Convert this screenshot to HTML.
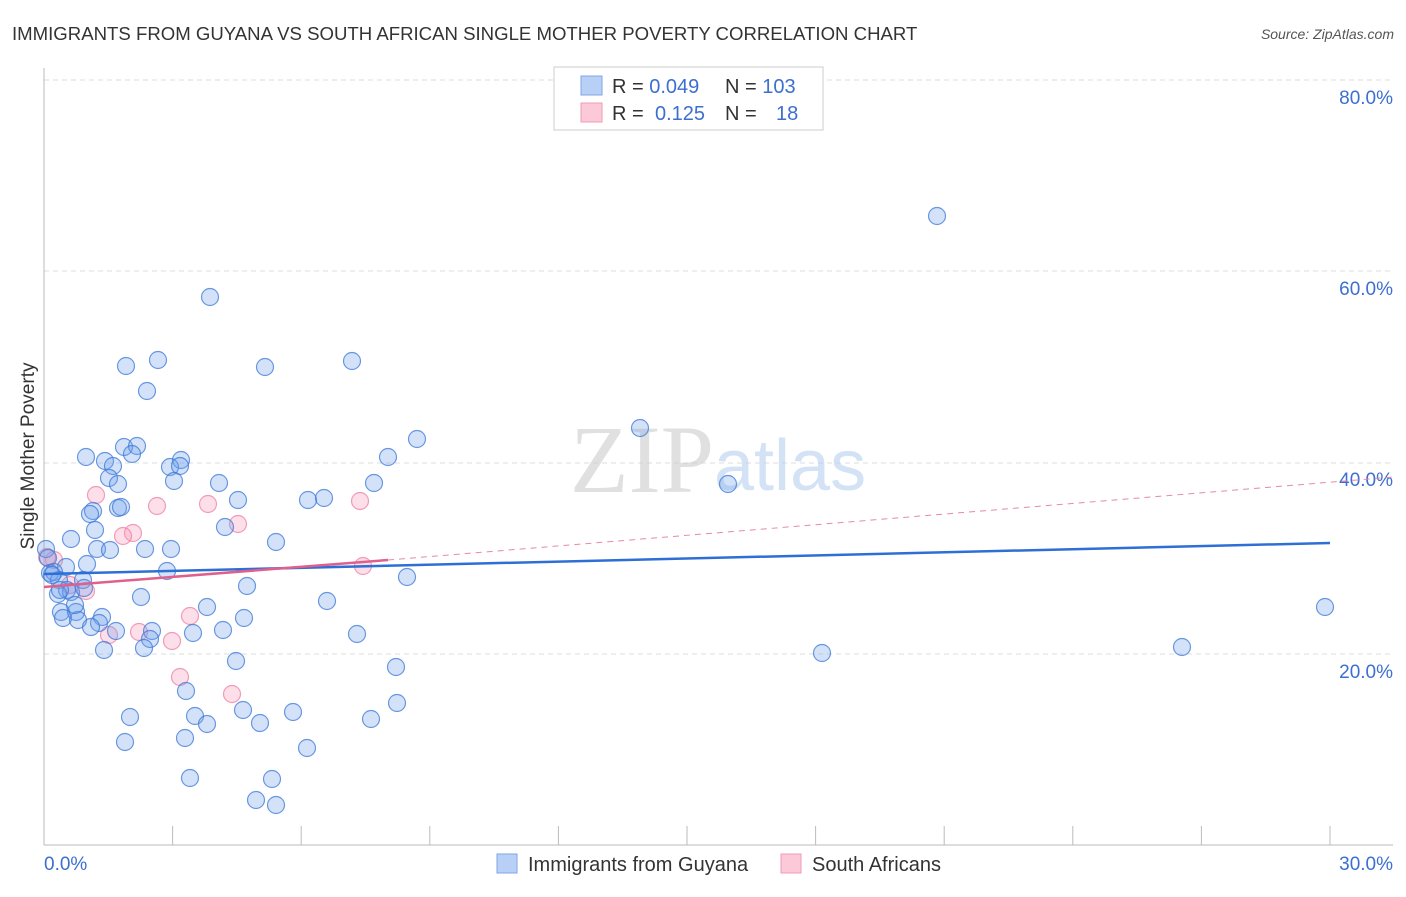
<!DOCTYPE html>
<html><head><meta charset="utf-8"><style>
html,body{margin:0;padding:0;background:#fff;}
body{width:1406px;height:892px;overflow:hidden;font-family:"Liberation Sans",sans-serif;}
</style></head><body>
<svg id="s" width="1406" height="892" xmlns="http://www.w3.org/2000/svg" font-family="Liberation Sans, sans-serif">
<text x="12" y="40" font-size="18.6" fill="#333">IMMIGRANTS FROM GUYANA VS SOUTH AFRICAN SINGLE MOTHER POVERTY CORRELATION CHART</text>
<text x="1394" y="39" font-size="14" fill="#555" font-style="italic" text-anchor="end">Source: ZipAtlas.com</text>
<g stroke="#ddd" stroke-dasharray="5,4" stroke-width="1">
<line x1="44" y1="80" x2="1393" y2="80"/><line x1="44" y1="271" x2="1393" y2="271"/>
<line x1="44" y1="463" x2="1393" y2="463"/><line x1="44" y1="654" x2="1393" y2="654"/>
</g>
<line x1="44" y1="68" x2="44" y2="845" stroke="#bbb"/>
<line x1="44" y1="845" x2="1393" y2="845" stroke="#bbb"/>
<g id="ticks" stroke="#bbb"></g>
<g font-size="19" fill="#3c6fd0" text-anchor="end">
<text x="1393" y="104">80.0%</text><text x="1393" y="295">60.0%</text>
<text x="1393" y="486">40.0%</text><text x="1393" y="678">20.0%</text>
</g>
<text x="44" y="870" font-size="19" fill="#3c6fd0">0.0%</text>
<text x="1393" y="870" font-size="19" fill="#3c6fd0" text-anchor="end">30.0%</text>
<text transform="translate(34,456) rotate(-90)" font-size="19" fill="#333" text-anchor="middle">Single Mother Poverty</text>
<text x="714" y="492" font-size="96" fill="#ccc" opacity="0.6" text-anchor="end" font-family="Liberation Serif, serif">ZIP</text>
<text x="714" y="490" font-size="72" fill="#b9cff0" opacity="0.6">atlas</text>
<g id="pts"></g>
<line x1="44" y1="574" x2="1330" y2="543" stroke="#2e6fd6" stroke-width="2.5"/>
<line x1="44" y1="587" x2="388" y2="560" stroke="#e0608c" stroke-width="2.5"/>
<line x1="388" y1="560" x2="1393" y2="477" stroke="#e48aa8" stroke-width="1" stroke-dasharray="6,5"/>
<rect x="554" y="67" width="269" height="63" fill="#fff" stroke="#ccc"/>
<rect x="581" y="76" width="21" height="19" fill="#b8d0f5" stroke="#7fa6e6"/>
<rect x="581" y="103" width="21" height="19" fill="#fbc9d7" stroke="#f09ab4"/>
<g font-size="20">
<text x="612" y="93" fill="#333">R = <tspan fill="#3c6fd0">0.049</tspan></text>
<text x="725" y="93" fill="#333">N = <tspan fill="#3c6fd0">103</tspan></text>
<text x="612" y="120" fill="#333">R = <tspan fill="#3c6fd0" x="655">0.125</tspan></text>
<text x="725" y="120" fill="#333">N = <tspan fill="#3c6fd0" x="776">18</tspan></text>
</g>
<rect x="497" y="854" width="20" height="19" fill="#b8d0f5" stroke="#7fa6e6"/>
<text x="528" y="871" font-size="20" fill="#333">Immigrants from Guyana</text>
<rect x="781" y="854" width="20" height="19" fill="#fbc9d7" stroke="#f09ab4"/>
<text x="812" y="871" font-size="20" fill="#333">South Africans</text>
</svg>
<script>
var ns="http://www.w3.org/2000/svg";
var t=document.getElementById("ticks");
for(var i=0;i<=10;i++){var x=44+i*128.6;var l=document.createElementNS(ns,"line");l.setAttribute("x1",x);l.setAttribute("x2",x);l.setAttribute("y1",826);l.setAttribute("y2",845);t.appendChild(l);}
var B=[[210,297],[937,216],[158,360],[126,366],[265,367],[352,361],[147,391],[640,428],[417,439],[124,447],[137,446],[86,457],[105,461],[132,454],[181,460],[113,466],[170,467],[388,457],[180,466],[109,478],[118,484],[174,481],[219,483],[374,483],[728,484],[238,500],[308,500],[324,498],[93,511],[90,514],[118,508],[121,507],[225,527],[95,530],[71,539],[276,542],[97,549],[110,550],[145,549],[171,549],[46,549],[48,558],[66,567],[87,564],[167,571],[50,573],[54,572],[407,577],[83,580],[59,580],[247,586],[67,590],[71,592],[84,588],[58,594],[141,597],[327,601],[207,607],[61,612],[76,612],[102,617],[244,618],[63,618],[78,620],[99,623],[116,631],[91,627],[152,631],[223,630],[193,633],[357,634],[150,639],[144,648],[104,650],[822,653],[1182,647],[1325,607],[236,661],[396,667],[186,691],[397,703],[130,717],[195,716],[243,710],[293,712],[207,724],[260,723],[371,719],[125,742],[185,738],[307,748],[190,778],[272,779],[256,800],[276,805],[52,575],[60,590],[75,605]];
var P=[[96,495],[157,506],[208,504],[238,524],[360,501],[133,533],[123,536],[54,560],[363,566],[86,591],[190,616],[139,632],[109,635],[172,641],[180,677],[232,694],[47,557],[70,585]];
var g=document.getElementById("pts");
function add(a,f,s){a.forEach(function(p){var c=document.createElementNS(ns,"circle");c.setAttribute("cx",p[0]);c.setAttribute("cy",p[1]);c.setAttribute("r",8.5);c.setAttribute("fill",f);c.setAttribute("stroke",s);c.setAttribute("stroke-width","1.2");g.appendChild(c);});}
add(P,"rgba(245,150,180,0.3)","rgba(235,120,160,0.7)");
add(B,"rgba(110,160,235,0.3)","rgba(60,120,215,0.75)");
</script>
</body></html>
